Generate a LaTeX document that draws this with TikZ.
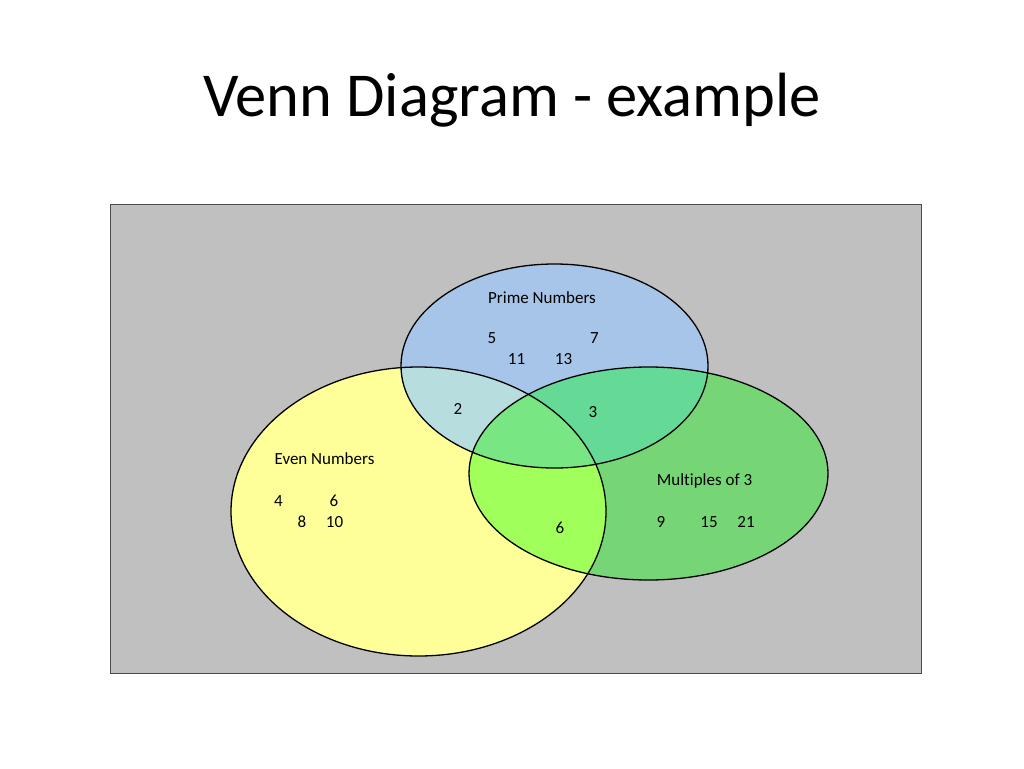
\documentclass[tikz,border=0pt]{standalone}
\usepackage{fontspec}
\setmainfont[Ligatures=NoCommon]{Carlito}
\usepackage{tikz}
\usetikzlibrary{positioning}
\definecolor{bgcolor}{RGB}{192,192,192}
\definecolor{primecolor}{RGB}{166,197,232}
\definecolor{evencolor}{RGB}{255,255,153}
\definecolor{multcolor}{RGB}{118,214,118}
\definecolor{primeevencolor}{RGB}{184,221,222}
\definecolor{primemultcolor}{RGB}{100,218,150}
\definecolor{evenmultcolor}{RGB}{160,255,90}
\definecolor{allcolor}{RGB}{120,230,130}

\tikzset{lbl/.style={font=\fontsize{17}{20}\selectfont, anchor=base, inner sep=0pt}}

\begin{document}
\begin{tikzpicture}[x=1pt, y=-1pt]
    \useasboundingbox (0,0) rectangle (1024,768);

    % === TITRE ===
    \node[font=\fontsize{62.5}{75}\selectfont, anchor=base] (title) at (512, 116) {Venn Diagram - example};

    % === FOND ===
    \draw[fill=bgcolor, draw=black!70, line width=1] (110.5, 204.5) rectangle (921, 673.5);

    % Les trois ensembles
    \def\evenshape{(418.5, 511.5) ellipse [x radius=187.5, y radius=144.5]}
    \def\primeshape{(554.5, 366) ellipse [x radius=153.5, y radius=102]}
    \def\multshape{(648.5, 473.5) ellipse [x radius=179.5, y radius=106.5]}

    \fill[evencolor] \evenshape;
    \fill[primecolor] \primeshape;
    \fill[multcolor] \multshape;

    % Intersections
    \begin{scope}
        \clip \evenshape;
        \fill[primeevencolor] \primeshape;
        \fill[evenmultcolor] \multshape;
    \end{scope}
    \begin{scope}
        \clip \primeshape;
        \fill[primemultcolor] \multshape;
    \end{scope}
    \begin{scope}
        \clip \evenshape;
        \clip \primeshape;
        \fill[allcolor] \multshape;
    \end{scope}

    % Contours
    \draw[line width=1.3] \evenshape;
    \draw[line width=1.3] \primeshape;
    \draw[line width=1.3] \multshape;

    % === NOMBRES PREMIERS ===
    \node[lbl] (primelbl) at (542, 303.5) {Prime Numbers};
    \node[lbl] (p5) at (492, 343.5) {5};
    \node[lbl] (p7) at (594.5, 343.5) {7};
    \node[lbl] (p11) at (516.5, 364.5) {11};
    \node[lbl] (p13) at (563.5, 364.5) {13};
    \node[lbl] (pe2) at (458, 414.5) {2};
    \node[lbl] (pm3) at (593, 417.5) {3};

    % === NOMBRES PAIRS ===
    \node[lbl] (evenlbl) at (324.5, 464.5) {Even Numbers};
    \node[lbl] (e4) at (278.5, 506.5) {4};
    \node[lbl] (e6) at (334, 506.5) {6};
    \node[lbl] (e8) at (302, 527.5) {8};
    \node[lbl] (e10) at (334.5, 527.5) {10};
    \node[lbl] (em6) at (560, 533.5) {6};

    % === MULTIPLES DE 3 ===
    \node[lbl] (multlbl) at (704.5, 485.5) {Multiples of 3};
    \node[lbl] (m9) at (661, 527.5) {9};
    \node[lbl] (m15) at (709, 527.5) {15};
    \node[lbl] (m21) at (746, 527.5) {21};

\end{tikzpicture}
\end{document}
